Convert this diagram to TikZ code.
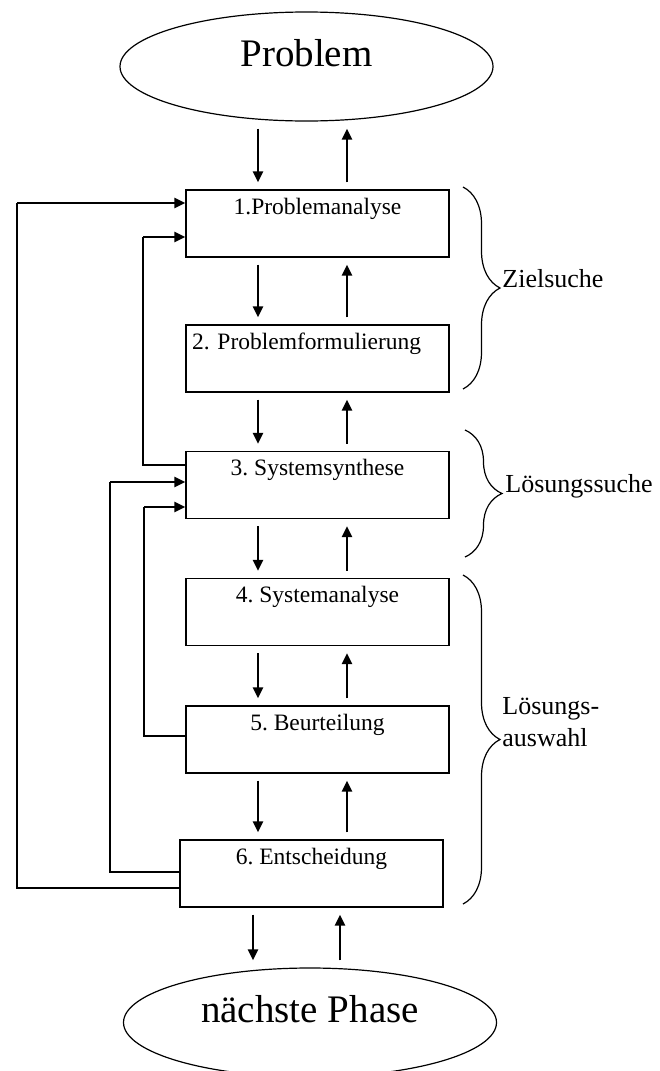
\documentclass[tikz,border=0pt]{standalone}
\usepackage{fontspec}
\setmainfont{Liberation Serif}
\usetikzlibrary{shapes.geometric,arrows.meta,decorations.pathreplacing}

\begin{document}
\frenchspacing
\begin{tikzpicture}[
    x=0.5pt, y=-0.5pt,
    stage/.style={rectangle, draw, line width=0.6pt, minimum width=131.5pt, minimum height=33.5pt, inner xsep=3pt, inner ysep=0pt, text height=12pt, text depth=21.5pt, font=\fontsize{11.75}{14}\selectfont},
    phase/.style={ellipse, draw, line width=0.6pt, minimum width=186.5pt, minimum height=54.5pt, inner sep=0pt, text height=14pt, text depth=14pt, font=\fontsize{19.5}{23}\selectfont},
    arrow/.style={-{Triangle[width=5pt,length=5.5pt]}, line width=1.3pt, shorten >=3.5pt, shorten <=3.5pt},
    feedback/.style={line width=0.6pt},
    feedbackarrow/.style={-{Triangle[width=5pt,length=5.5pt]}, line width=1.3pt},
    bracket/.style={decorate, decoration={brace, amplitude=18.5pt}, line width=0.6pt},
    bracelabel/.style={font=\fontsize{13}{16}\selectfont, inner sep=0pt, align=left}
]
\useasboundingbox (0,0) rectangle (659,1071);

% Phasen und Schritte
\node[phase] (top) at (306.5,66.5) {Problem};
\node[stage] (b1) at (317.5,223.5) {1.Problemanalyse};
\node[stage, text width=125.5pt, align=left] (b2) at (317.5,358.5) {2. Problemformulierung};
\node[stage] (b3) at (317.5,485) {3. Systemsynthese};
\node[stage] (b4) at (317.5,612) {4. Systemanalyse};
\node[stage] (b5) at (317.5,739.5) {5. Beurteilung};
\node[stage] (b6) at (311.5,873.5) {6. Entscheidung};
\node[phase] (next) at (310,1022.5) {nächste Phase};

% Spalten der senkrechten Pfeile
\coordinate (down1) at (258,0);
\coordinate (up1) at (347,0);
\coordinate (down2) at (253,0);
\coordinate (up2) at (340,0);

\draw[arrow] (top.south -| down1) -- (b1.north -| down1);
\draw[arrow] (b1.north -| up1) -- (top.south -| up1);
\draw[arrow] (b1.south -| down1) -- (b2.north -| down1);
\draw[arrow] (b2.north -| up1) -- (b1.south -| up1);
\draw[arrow] (b2.south -| down1) -- (b3.north -| down1);
\draw[arrow] (b3.north -| up1) -- (b2.south -| up1);
\draw[arrow] (b3.south -| down1) -- (b4.north -| down1);
\draw[arrow] (b4.north -| up1) -- (b3.south -| up1);
\draw[arrow] (b4.south -| down1) -- (b5.north -| down1);
\draw[arrow] (b5.north -| up1) -- (b4.south -| up1);
\draw[arrow] (b5.south -| down1) -- (b6.north -| down1);
\draw[arrow] (b6.north -| up1) -- (b5.south -| up1);
\draw[arrow] (b6.south -| down2) -- (next.north -| down2);
\draw[arrow] (next.north -| up2) -- (b6.south -| up2);

% Rueckkopplungen
\coordinate (fb1) at (17,203);
\coordinate (fb2) at (143,237);
\coordinate (fb3) at (144,507);
\coordinate (fb4) at (110,482);

\draw[feedback] ([yshift=-7.25pt]b6.west) -| (fb1);
\draw[feedbackarrow] (fb1) -- (fb1 -| b1.west);
\draw[feedback] ([yshift=10pt]b3.west) -| (fb2);
\draw[feedbackarrow] (fb2) -- (fb2 -| b1.west);
\draw[feedback] ([yshift=1.75pt]b5.west) -| (fb3);
\draw[feedbackarrow] (fb3) -- (fb3 -| b3.west);
\draw[feedback] ([yshift=0.75pt]b6.west) -| (fb4);
\draw[feedbackarrow] (fb4) -- (fb4 -| b3.west);

% Klammern
\draw[bracket] (463,187) -- (463,389);
\draw[bracket] (465,430) -- (465,557);
\draw[bracket] (463,575) -- (463,904);
\node[bracelabel, anchor=base west] (goal) at (502,287) {Zielsuche};
\node[bracelabel, anchor=base west] (search) at (505,492) {Lösungssuche};
\node[bracelabel, anchor=west] (choice) at (502,722) {Lösungs-\\auswahl};
\end{tikzpicture}
\end{document}
